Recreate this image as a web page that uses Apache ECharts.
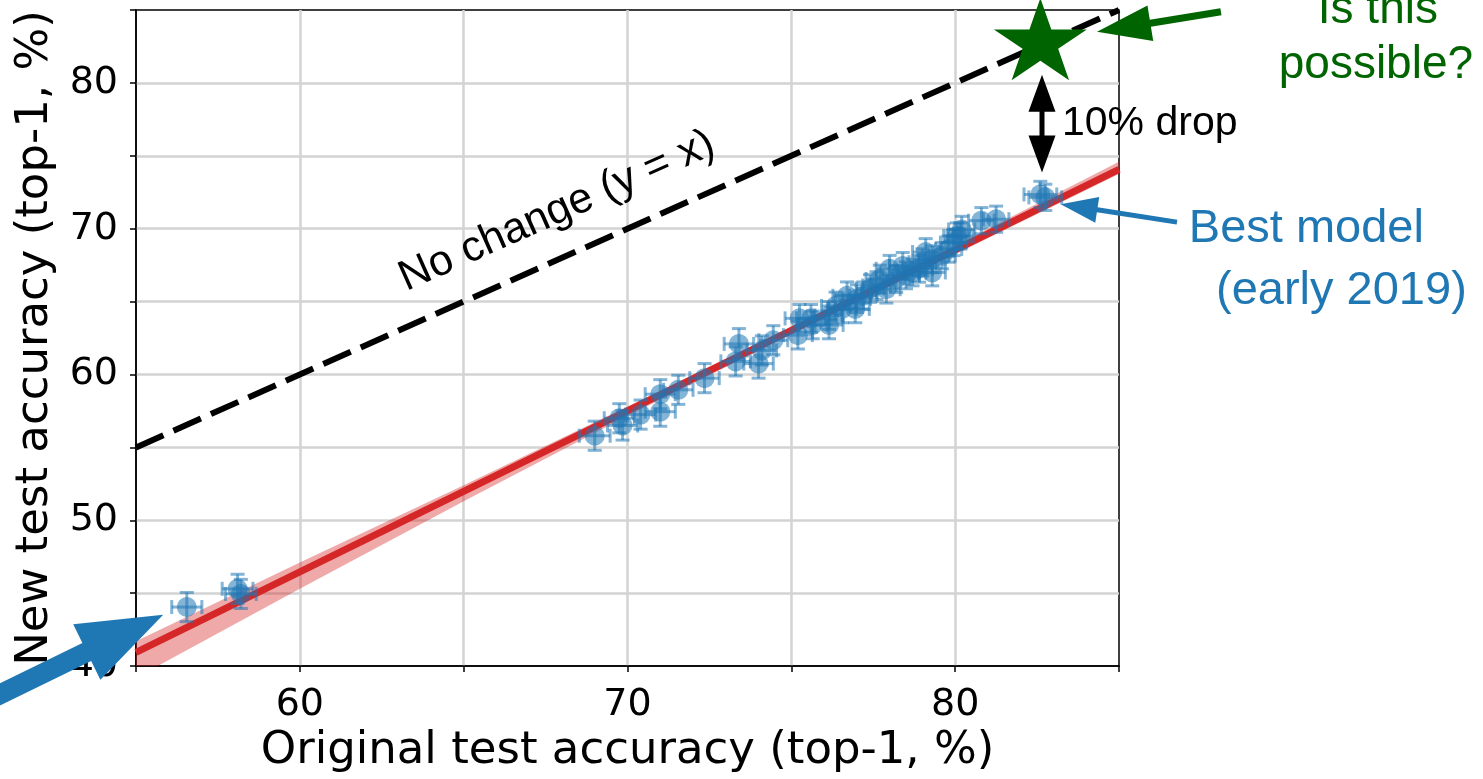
<!DOCTYPE html>
<html><head><meta charset="utf-8">
<script src="https://cdn.jsdelivr.net/npm/echarts@6/dist/echarts.min.js"></script>
<style>html,body{margin:0;padding:0;background:#fff;}#chart{width:1483px;height:779px;}</style>
</head><body><div id="chart"></div>
<script>
// ---------- data ----------
const origAcc = [56.55,58.1,58.2,69.0,69.75,69.85,70.4,71.0,71.0,71.55,72.35,73.3,73.4,74.0,74.1,74.45,75.2,75.25,75.6,75.65,76.15,76.15,76.35,76.55,76.7,76.95,77.0,77.2,77.4,77.6,77.7,77.9,78.0,78.2,78.4,78.5,78.7,78.9,79.0,79.1,79.3,79.3,79.6,79.8,79.95,80.05,80.15,80.2,80.8,81.25,82.6,82.75];
const newAcc  = [44.05,45.3,44.95,55.8,57.0,56.5,57.25,57.45,58.65,58.95,59.75,60.9,62.1,60.75,61.65,62.35,62.7,63.85,63.85,63.4,63.4,64.05,64.7,64.5,65.4,64.5,65.2,65.4,65.9,66.1,66.55,65.85,67.25,66.55,67.45,66.8,67.0,67.25,67.7,68.4,67.9,67.0,68.15,68.6,69.05,69.5,69.5,69.95,70.55,70.65,72.35,72.15];
const origErr = [0.46,0.47,0.47,0.47,0.46,0.46,0.46,0.46,0.46,0.45,0.45,0.45,0.45,0.45,0.45,0.44,0.44,0.44,0.44,0.44,0.43,0.43,0.43,0.43,0.43,0.43,0.42,0.42,0.42,0.42,0.42,0.42,0.41,0.41,0.41,0.41,0.41,0.41,0.41,0.40,0.40,0.40,0.40,0.40,0.40,0.40,0.40,0.40,0.39,0.39,0.50,0.50];
const newErr  = [1.0,1.0,1.0,1.0,1.0,1.0,1.0,1.0,1.0,1.0,1.0,1.0,1.05,1.0,1.0,1.0,0.95,0.95,0.95,0.95,0.95,0.95,0.95,0.95,0.95,0.95,0.95,0.95,0.95,0.95,0.95,0.95,0.92,0.92,0.92,0.92,0.92,0.92,0.92,0.92,0.92,0.92,0.9,0.9,0.9,0.9,0.9,0.9,0.9,0.9,0.9,0.9];
const identityX = [55, 85];
const identityY = [55, 85];
const fitX = [55, 85];
const fitY = [40.94, 74.07];
const bandX    = [55, 60, 65, 70, 75, 80, 85];
const bandLow  = [39.2, 45.3, 51.3, 57.15, 62.75, 68.25, 73.75];
const bandHigh = [41.7, 47.1, 52.4, 57.8, 63.25, 68.85, 74.6];
const targetX = [82.6];
const targetY = [83.0];
const xTickLabels = [60, 70, 80];
const yTickLabels = [40, 50, 60, 70, 80];

// ---------- annotations (data coordinates) ----------
const arrows = [
  {from:[88.11,84.88], to:[84.33,83.5],  color:'#006400', w:7,  L:54, h:18, both:false},
  {from:[86.77,70.45], to:[83.22,71.68], color:'#1f77b4', w:5,  L:37, h:13, both:false},
  {from:[50.24,37.4],  to:[55.83,43.52], color:'#1f77b4', w:20, L:85, h:31, both:false},
  {from:[82.65,80.56], to:[82.65,73.85], color:'#000000', w:5,  L:37, h:13.5, both:true}
];
const notes = [
  {text:'10% drop',     at:[83.26,77.2],  color:'#000000', size:41, align:'left'},
  {text:'Is this',      at:[92.9,85.0],   color:'#006400', size:46, align:'center'},
  {text:'possible?',    at:[92.84,81.2],  color:'#006400', size:46, align:'center'},
  {text:'Best model',   at:[87.13,69.95], color:'#1f77b4', size:47, align:'left'},
  {text:'(early 2019)', at:[87.96,65.72], color:'#1f77b4', size:47, align:'left'},
  {text:'No change (y = x)', at:[67.85,71.2], color:'#000000', size:43, align:'center', rotateWith:[identityX, identityY]}
];

const BLUE_A = 'rgba(31,119,180,0.55)';
const ANN_FONT = '"Liberation Sans", Arial, sans-serif';
const AX_FONT = '"DejaVu Sans", sans-serif';

function arrowPoints(p1, p2, a){
  const dx=p2[0]-p1[0], dy=p2[1]-p1[1], len=Math.hypot(dx,dy);
  const ux=dx/len, uy=dy/len, nx=-uy, ny=ux;
  const P=(p,s,t)=>[p[0]+ux*s+nx*t, p[1]+uy*s+ny*t];
  const pts=[];
  if(a.both){
    pts.push(p1, P(p1,a.L,a.h), P(p1,a.L,a.w/2));
  } else {
    pts.push(P(p1,0,a.w/2));
  }
  pts.push(P(p2,-a.L,a.w/2), P(p2,-a.L,a.h), p2, P(p2,-a.L,-a.h), P(p2,-a.L,-a.w/2));
  if(a.both){
    pts.push(P(p1,a.L,-a.w/2), P(p1,a.L,-a.h));
  } else {
    pts.push(P(p1,0,-a.w/2));
  }
  return pts;
}

const chart = echarts.init(document.getElementById('chart'), null, {renderer:'canvas'});

const axisCommon = {
  type:'value', interval:5,
  axisLine:{show:true, onZero:false, lineStyle:{color:'#000', width:1.5}},
  axisTick:{show:true, inside:false, length:6, lineStyle:{color:'#000', width:1.5}},
  splitLine:{show:true, showMinLine:false, showMaxLine:false, lineStyle:{color:'#d3d3d3', width:2.5}},
  nameLocation:'middle',
  nameTextStyle:{fontSize:45, fontFamily:AX_FONT, color:'#000'}
};

const option = {
  animation:false,
  backgroundColor:'#fff',
  grid:{left:136, top:10, width:983, height:659, show:true, borderColor:'#000', borderWidth:1.5, backgroundColor:'transparent'},
  xAxis:Object.assign({}, axisCommon, {
    min:55, max:85, name:'Original test accuracy (top-1, %)', nameGap:45,
    axisLabel:{fontSize:38, fontFamily:AX_FONT, color:'#000', margin:20,
      formatter:v=>xTickLabels.includes(v)?String(v):''}
  }),
  yAxis:Object.assign({}, axisCommon, {
    min:40, max:85, name:'New test accuracy (top-1, %)', nameGap:78,
    axisLabel:{fontSize:38, fontFamily:AX_FONT, color:'#000', margin:18,
      formatter:v=>yTickLabels.includes(v)?String(v):''}
  }),
  series:[
    { // confidence band
      type:'custom', silent:true, clip:true, z:2,
      data:[[bandX[0], bandLow[0]]],
      renderItem:(params, api)=>{
        const pts=[];
        for(let i=0;i<bandX.length;i++) pts.push(api.coord([bandX[i], bandHigh[i]]));
        for(let i=bandX.length-1;i>=0;i--) pts.push(api.coord([bandX[i], bandLow[i]]));
        return {type:'polygon', shape:{points:pts}, style:{fill:'rgba(214,39,40,0.4)'}};
      }
    },
    { // fit line
      type:'line', silent:true, z:3, showSymbol:false, symbol:'none',
      data:fitX.map((x,i)=>[x, fitY[i]]),
      lineStyle:{color:'#d62728', width:7}
    },
    { // y = x
      type:'line', silent:true, z:3, showSymbol:false, symbol:'none',
      data:identityX.map((x,i)=>[x, identityY[i]]),
      lineStyle:{color:'#000', width:6, type:[30,11]}
    },
    { // models with error bars
      type:'custom', silent:true, z:4,
      data:origAcc.map((x,i)=>[x, newAcc[i], origErr[i], newErr[i]]),
      encode:{x:0, y:1},
      renderItem:(params, api)=>{
        const x=api.value(0), y=api.value(1), ex=api.value(2), ey=api.value(3);
        const c=api.coord([x,y]), l=api.coord([x-ex,y]), r=api.coord([x+ex,y]);
        const t=api.coord([x,y+ey]), b=api.coord([x,y-ey]);
        const cap=7;
        const st=()=>({stroke:BLUE_A, lineWidth:3, fill:null});
        return {type:'group', children:[
          {type:'line', shape:{x1:l[0],y1:l[1],x2:r[0],y2:r[1]}, style:st()},
          {type:'line', shape:{x1:t[0],y1:t[1],x2:b[0],y2:b[1]}, style:st()},
          {type:'line', shape:{x1:l[0],y1:l[1]-cap,x2:l[0],y2:l[1]+cap}, style:st()},
          {type:'line', shape:{x1:r[0],y1:r[1]-cap,x2:r[0],y2:r[1]+cap}, style:st()},
          {type:'line', shape:{x1:t[0]-cap,y1:t[1],x2:t[0]+cap,y2:t[1]}, style:st()},
          {type:'line', shape:{x1:b[0]-cap,y1:b[1],x2:b[0]+cap,y2:b[1]}, style:st()},
          {type:'circle', shape:{cx:c[0],cy:c[1],r:10}, style:{fill:BLUE_A}}
        ]};
      }
    },
    { // hypothetical target
      type:'scatter', silent:true, z:6,
      data:targetX.map((x,i)=>[x, targetY[i]]),
      symbol:'path://M50 0 L61.2 34.5 L97.6 34.5 L68.2 55.9 L79.4 90.5 L50 69.1 L20.6 90.5 L31.8 55.9 L2.4 34.5 L38.8 34.5 Z',
      symbolKeepAspect:false, symbolSize:[93,82],
      itemStyle:{color:'#006400', opacity:1}
    },
    { // annotations
      type:'custom', silent:true, clip:false, z:10,
      data:[[identityX[0], identityY[0]]],
      renderItem:(params, api)=>{
        const children=[];
        arrows.forEach(a=>{
          const p1=api.coord(a.from), p2=api.coord(a.to);
          children.push({type:'polygon', shape:{points:arrowPoints(p1,p2,a)}, style:{fill:a.color}});
        });
        notes.forEach(n=>{
          const p=api.coord(n.at);
          let rot=0;
          if(n.rotateWith){
            const q1=api.coord([n.rotateWith[0][0], n.rotateWith[1][0]]);
            const q2=api.coord([n.rotateWith[0][1], n.rotateWith[1][1]]);
            rot=Math.atan2(-(q2[1]-q1[1]), q2[0]-q1[0]);
          }
          children.push({type:'text', x:p[0], y:p[1], rotation:rot,
            style:{text:n.text, x:0, y:0, fill:n.color, fontSize:n.size, fontFamily:ANN_FONT,
              align:n.align, verticalAlign:'middle'}});
        });
        return {type:'group', children};
      }
    }
  ]
};
chart.setOption(option);
</script></body></html>
